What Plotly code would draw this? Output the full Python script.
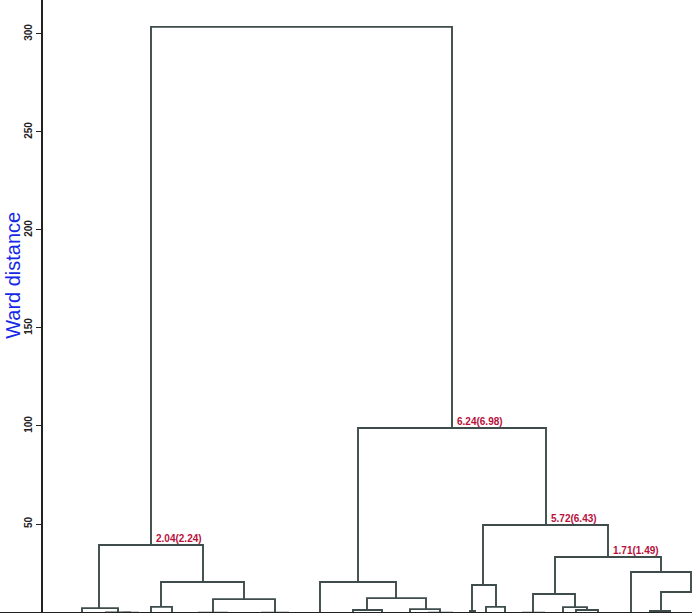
import plotly.graph_objects as go

# Dendrogram merges (leaf-order position units, Ward distance)
merge_left_x   = [151, 99, 82, 106, 124, 161, 151, 213, 199, 262,
                  358, 320, 367, 353, 410, 429, 483, 472, 470, 486,
                  555, 533, 523, 563, 576, 631, 661, 650]
merge_right_x  = [452, 203, 118, 130, 138, 244, 172, 275, 227, 288,
                  546, 396, 426, 382, 440, 452, 608, 496, 475, 505,
                  661, 575, 544, 587, 598, 691, 721, 670]
merge_height   = [303.6, 39.3, 7.1, 4.9, 4.7, 20.4, 7.7, 11.7, 4.8, 4.8,
                  99.0, 20.4, 12.2, 6.1, 6.6, 4.8, 49.5, 18.9, 5.6, 7.7,
                  33.2, 14.3, 4.8, 7.6, 6.1, 25.5, 15.3, 5.6]
left_child_h   = [39.3, 7.1, 0, 0, 0, 7.7, 0, 4.8, 0, 0,
                  20.4, 0, 6.1, 0, 0, 0, 18.9, 5.6, 0, 0,
                  14.3, 4.8, 0, 0, 0, 0, 5.6, 0]
right_child_h  = [99.0, 20.4, 4.9, 4.7, 0, 11.7, 0, 4.8, 0, 0,
                  49.5, 12.2, 6.6, 0, 4.8, 0, 33.2, 7.7, 0, 0,
                  25.5, 7.6, 0, 6.1, 0, 15.3, 0, 0]

# Node annotations
label_x    = [151, 452, 546, 608]
label_h    = [39.3, 99.0, 49.5, 33.2]
label_text = ["2.04(2.24)", "6.24(6.98)", "5.72(6.43)", "1.71(1.49)"]

tick_vals = [50, 100, 150, 200, 250, 300]

xs, ys = [], []
for xl, xr, h, hl, hr in zip(merge_left_x, merge_right_x, merge_height,
                             left_child_h, right_child_h):
    xs += [xl, xl, xr, xr, None]
    ys += [hl, h, h, hr, None]

line_col = "#3e4c4c"
fig = go.Figure()
fig.add_trace(go.Scatter(x=xs, y=ys, mode="lines",
                         line=dict(color=line_col, width=1.9),
                         hoverinfo="skip", showlegend=False, cliponaxis=True))

for x, h, t in zip(label_x, label_h, label_text):
    fig.add_annotation(x=x, y=h, text=t, showarrow=False,
                       xanchor="left", yanchor="bottom", xshift=3, yshift=-1,
                       font=dict(family="Liberation Sans, Arial", size=10,
                                 color="#b8103c", weight="bold"))

fig.add_annotation(xref="paper", yref="paper", x=-43/649, y=0.55,
                   text="Ward distance", textangle=-90, showarrow=False,
                   xanchor="left", yanchor="middle",
                   font=dict(family="Liberation Sans, Arial", size=20,
                             color="#1428e6"))

fig.add_shape(type="line", xref="paper", yref="y", x0=-0.07, x1=1.0,
              y0=4.7, y1=4.7, line=dict(color="#222", width=1.5))

fig.update_layout(
    width=692, height=615,
    margin=dict(l=43, r=0, t=0, b=2, autoexpand=False),
    paper_bgcolor="white", plot_bgcolor="white",
    xaxis=dict(range=[43, 692], visible=False, showgrid=False, zeroline=False,
               automargin=False),
    yaxis=dict(range=[4.6, 317.3], tickvals=tick_vals, tickangle=-90,
               ticks="outside", ticklen=5, tickcolor="#222",
               showline=True, linecolor="#222", linewidth=1.5,
               showgrid=False, zeroline=False, automargin=False,
               tickfont=dict(family="Liberation Sans, Arial", size=10,
                             color="#222", weight="bold")),
)

fig.write_html("out.html", config={"displayModeBar": False},
               post_script="document.body.style.margin='0px';document.body.style.overflow='hidden';")
